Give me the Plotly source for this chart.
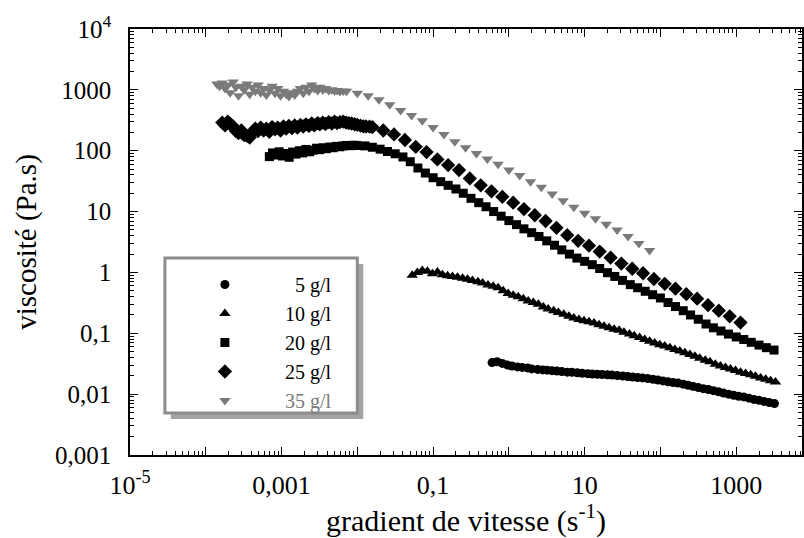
import plotly.graph_objects as go

# ---------------- data ----------------
# 5 g/l
x5 = [0.6, 0.7, 0.82, 0.96, 1.1, 1.3, 1.5, 1.76, 2.0, 2.4, 2.8, 3.2, 3.7, 4.3, 5.0,
      5.9, 6.8, 8.0, 9.3, 11, 12.6, 14.7, 17, 20, 23, 27, 32, 37, 43, 50,
      58, 68, 80, 93, 108, 126, 147, 171, 200, 232, 270, 316, 368, 430, 500,
      585, 680, 794, 925, 1080, 1260, 1470, 1710, 2000, 2330, 2720, 3200]
y5 = [0.033, 0.034, 0.032, 0.030, 0.029, 0.028, 0.0275, 0.027, 0.026, 0.0255,
      0.025, 0.0248, 0.0243, 0.024, 0.0235, 0.023, 0.0228, 0.0224, 0.022, 0.0217,
      0.0214, 0.0212, 0.021, 0.0208, 0.0206, 0.0202, 0.0198, 0.0195, 0.0191, 0.0188,
      0.0185, 0.018, 0.0175, 0.017, 0.0165, 0.016, 0.0155, 0.0152, 0.0146, 0.014,
      0.0134, 0.0128, 0.0123, 0.0119, 0.0114, 0.0109, 0.0104, 0.0100, 0.0096, 0.0092,
      0.0090, 0.0086, 0.0082, 0.0079, 0.0076, 0.0073, 0.0070]

# 10 g/l
x10 = [0.053, 0.062, 0.072, 0.084, 0.098, 0.114, 0.133, 0.155, 0.18, 0.21,
       0.245, 0.285, 0.33, 0.39, 0.45, 0.53, 0.62, 0.72, 0.84, 0.98,
       1.14, 1.33, 1.55, 1.8, 2.1, 2.45, 2.85, 3.3, 3.9, 4.5,
       5.3, 6.2, 7.2, 8.4, 9.8, 11.4, 13.3, 15.5, 18, 21,
       24.5, 28.5, 33, 39, 45, 53, 62, 72, 84, 98,
       114, 133, 155, 180, 210, 245, 285, 330, 390, 450,
       530, 620, 720, 840, 980, 1140, 1330, 1550, 1800, 2100,
       2450, 2850, 3300]
y10 = [0.90, 1.0, 1.08, 1.05, 0.95, 1.02, 0.92, 0.88, 0.86, 0.83,
       0.80, 0.77, 0.74, 0.70, 0.67, 0.62, 0.59, 0.56, 0.50, 0.45,
       0.42, 0.40, 0.37, 0.34, 0.32, 0.30, 0.27, 0.25, 0.235, 0.22,
       0.205, 0.19, 0.178, 0.168, 0.16, 0.155, 0.148, 0.138, 0.13, 0.123,
       0.117, 0.112, 0.104, 0.097, 0.091, 0.085, 0.079, 0.074, 0.069, 0.065,
       0.062, 0.058, 0.054, 0.051, 0.048, 0.045, 0.042, 0.039, 0.036, 0.034,
       0.031, 0.029, 0.0275, 0.026, 0.0245, 0.023, 0.0218, 0.0208, 0.0196, 0.0185,
       0.0175, 0.0166, 0.0158]

# 20 g/l
x20 = [6.9e-4, 7.6e-4, 8.4e-4, 9.3e-4, 1.03e-3, 1.14e-3, 1.26e-3, 1.4e-3, 1.55e-3,
       1.72e-3, 1.9e-3, 2.1e-3, 2.35e-3, 2.6e-3, 2.9e-3, 3.2e-3, 3.55e-3, 3.9e-3,
       4.35e-3, 4.8e-3, 5.3e-3, 5.9e-3, 6.5e-3, 7.2e-3, 8.0e-3, 8.9e-3, 9.8e-3,
       0.0126, 0.0158, 0.02, 0.025, 0.0316, 0.04, 0.05, 0.063, 0.079, 0.1,
       0.126, 0.158, 0.2, 0.25, 0.316, 0.4, 0.5, 0.63, 0.79, 1.0,
       1.26, 1.58, 2.0, 2.5, 3.16, 4.0, 5.0, 6.3, 7.9, 10,
       12.6, 15.8, 20, 25, 31.6, 40, 50, 63, 79, 100,
       126, 158, 200, 250, 316, 400, 500, 630, 790, 1000,
       1260, 1580, 2000, 2500, 3160]
y20 = [80, 92, 85, 96, 82, 90, 78, 95, 88,
       100, 92, 105, 96, 102, 110, 104, 112, 108,
       115, 112, 118, 116, 120, 122, 121, 123, 122,
       120, 114, 106, 97, 89, 79, 66, 52, 43, 36,
       31, 27, 23.5, 20, 16.5, 14, 12, 10, 8.4, 7.1,
       6.1, 5.2, 4.5, 3.9, 3.3, 2.8, 2.35, 2.0, 1.72, 1.52,
       1.34, 1.16, 0.99, 0.86, 0.74, 0.63, 0.56, 0.49, 0.43, 0.38,
       0.32, 0.275, 0.235, 0.2, 0.17, 0.142, 0.123, 0.109, 0.097, 0.087,
       0.079, 0.071, 0.064, 0.058, 0.053]

# 25 g/l
x25 = [1.65e-4, 1.8e-4, 1.95e-4, 2.1e-4, 2.3e-4, 2.5e-4, 2.7e-4, 2.95e-4, 3.2e-4, 3.5e-4,
       3.8e-4, 4.1e-4, 4.5e-4, 4.9e-4, 5.3e-4, 5.8e-4, 6.3e-4, 6.9e-4, 7.5e-4, 8.2e-4,
       8.9e-4, 9.7e-4, 1.06e-3, 1.15e-3, 1.25e-3, 1.37e-3, 1.49e-3, 1.62e-3, 1.77e-3, 1.93e-3,
       2.1e-3, 2.3e-3, 2.5e-3, 2.7e-3, 3.0e-3, 3.2e-3, 3.5e-3, 3.8e-3, 4.2e-3, 4.6e-3,
       5.0e-3, 5.4e-3, 5.9e-3, 6.5e-3, 7.1e-3, 7.7e-3, 8.4e-3, 9.2e-3, 0.01, 0.011,
       0.012, 0.013, 0.0145,
       0.0158, 0.022, 0.0305, 0.0425, 0.059, 0.082, 0.114, 0.158, 0.22, 0.305,
       0.425, 0.59, 0.82, 1.14, 1.58, 2.2, 3.05, 4.25, 5.9, 8.2,
       11.4, 15.8, 22, 30.5, 42.5, 59, 82, 114, 158, 220,
       305, 425, 590, 820, 1140]
y25 = [290, 260, 300, 275, 250, 210, 195, 215, 180, 175,
       165, 200, 230, 210, 240, 215, 230, 205, 245, 225,
       240, 215, 250, 230, 255, 235, 260, 240, 265, 250,
       270, 255, 280, 260, 285, 270, 290, 275, 295, 280,
       300, 285, 295, 300, 290, 285, 280, 272, 265, 258,
       252, 250, 248,
       245, 215, 185, 150, 116, 95, 72, 58, 48, 35,
       27, 21.5, 17.5, 14, 11, 8.7, 7.0, 5.4, 4.1, 3.3,
       2.75, 2.2, 1.75, 1.4, 1.15, 0.97, 0.78, 0.65, 0.54, 0.44,
       0.37, 0.29, 0.235, 0.19, 0.15]

# 35 g/l
x35 = [1.4e-4, 1.52e-4, 1.65e-4, 1.8e-4, 1.95e-4, 2.1e-4, 2.3e-4, 2.5e-4, 2.7e-4, 2.95e-4,
       3.2e-4, 3.5e-4, 3.8e-4, 4.1e-4, 4.5e-4, 4.9e-4, 5.3e-4, 5.8e-4, 6.3e-4, 6.9e-4,
       7.5e-4, 8.2e-4, 8.9e-4, 9.7e-4, 1.06e-3, 1.15e-3, 1.25e-3, 1.37e-3, 1.49e-3, 1.62e-3,
       1.77e-3, 1.93e-3, 2.1e-3, 2.3e-3, 2.5e-3, 2.7e-3, 3.0e-3, 3.2e-3, 3.5e-3, 3.8e-3,
       4.2e-3, 4.6e-3, 5.0e-3, 5.4e-3, 5.9e-3, 6.5e-3,
       0.0072, 0.01, 0.0139, 0.0193, 0.0268, 0.0373, 0.052, 0.072, 0.1, 0.139,
       0.193, 0.268, 0.373, 0.52, 0.72, 1.0, 1.39, 1.93, 2.68, 3.73,
       5.2, 7.2, 10, 13.9, 19.3, 26.8, 37.3, 52, 72]
y35 = [1250, 1150, 1300, 1050, 1200, 900, 1350, 1100, 800, 1150,
       1000, 1250, 850, 1100, 950, 1200, 900, 1050, 820, 1000,
       1150, 880, 1050, 800, 950, 850, 780, 900, 820, 950,
       1050, 880, 1100, 950, 1200, 1050, 980, 1100, 1000, 1050,
       980, 1000, 960, 980, 940, 960,
       950, 880, 800, 690, 570, 460, 380, 310, 240, 185,
       140, 112, 90, 73, 60, 48, 39, 31, 25, 19.5,
       15, 11.8, 9.4, 7.6, 6.2, 5.0, 3.9, 3.0, 2.3]

series_names = ["\u20075 g/l", "10 g/l", "20 g/l", "25 g/l",
                "<span style='color:#7a7a7a'>35 g/l</span>"]

x_label_vals = [1e-5, 1e-3, 1e-1, 10, 1000]
x_label_text = ["10<sup>-5</sup>", "0,001", "0,1", "10", "1000"]
x_unlabelled_decades = [1e-4, 1e-2, 1, 100]
y_tickvals = [1e-3, 1e-2, 1e-1, 1, 10, 100, 1000, 1e4]
y_ticktext = ["0,001", "0,01", "0,1", "1", "10", "100", "1000", "10<sup>4</sup>"]

# ---------------- figure ----------------
FONT = "Liberation Serif, Times New Roman, serif"
W, H = 804, 538
ML, MR, MT, MB = 130, 0, 29, 83
PW, PH = W - ML - MR, H - MT - MB
XRANGE = [-5, -5 + PW / 76.0]


def px2paper(px, py):
    return (px - ML) / PW, (H - MB - py) / PH


fig = go.Figure()
styles = [
    (x5, y5, "circle", 9, "black"),
    (x10, y10, "triangle-up", 10, "black"),
    (x20, y20, "square", 9, "black"),
    (x25, y25, "diamond", 11, "black"),
    (x35, y35, "triangle-down", 10, "#7a7a7a"),
]
for (xs, ys, sym, sz, col), name in zip(styles, series_names):
    fig.add_trace(go.Scatter(
        x=xs, y=ys, mode="markers", name=name,
        marker=dict(symbol=sym, size=sz, color=col, line=dict(width=0)),
    ))


def minor_vals(lo, hi):
    vals = []
    for d in range(lo, hi + 1):
        for k in range(2, 10):
            vals.append(k * 10.0 ** d)
    return vals


axis_common = dict(
    type="log", showgrid=False, zeroline=False,
    showline=True, linecolor="black", linewidth=1.5, mirror="ticks",
    ticks="inside", ticklen=8, tickwidth=1, tickcolor="black",
    tickmode="array",
)

fig.update_xaxes(
    **axis_common,
    range=XRANGE,
    tickvals=x_label_vals, ticktext=x_label_text,
    tickfont=dict(family=FONT, size=26, color="black"),
    ticklabelstandoff=6,
    minor=dict(tickmode="array", tickvals=minor_vals(-5, 3), ticks="inside",
               ticklen=4, tickwidth=1, tickcolor="black"),
    title=dict(text="gradient de vitesse (s<sup>-1</sup>)",
               font=dict(family=FONT, size=30, color="black"), standoff=4),
)
fig.update_yaxes(
    **axis_common,
    range=[-3, 4],
    tickvals=y_tickvals, ticktext=y_ticktext,
    tickfont=dict(family=FONT, size=25, color="black"),
    ticklabelstandoff=12,
    minor=dict(tickmode="array", tickvals=minor_vals(-3, 3), ticks="inside",
               ticklen=4, tickwidth=1, tickcolor="black"),
    title=dict(text="viscosité (Pa.s)",
               font=dict(family=FONT, size=29, color="black"), standoff=10),
)

# unlabelled decade ticks of the x axis (overlaying axis, no labels)
fig.update_layout(
    xaxis2=dict(type="log", overlaying="x", anchor="y", side="bottom",
                range=XRANGE, showgrid=False, zeroline=False, showline=False,
                mirror="ticks", ticks="inside", ticklen=8, tickwidth=1,
                tickcolor="black", tickmode="array",
                tickvals=x_unlabelled_decades, showticklabels=False),
)
fig.add_trace(go.Scatter(x=[], y=[], xaxis="x2", yaxis="y", showlegend=False,
                         mode="markers", hoverinfo="skip"))

# legend frame (shadow + bordered box)
sx0, sy0 = px2paper(171, 419)
sx1, sy1 = px2paper(364, 264)
bx0, by0 = px2paper(165, 413)
bx1, by1 = px2paper(358, 258)
fig.add_shape(type="rect", xref="paper", yref="paper", x0=sx0, y0=sy0, x1=sx1, y1=sy1,
              fillcolor="#a3a3a3", line=dict(width=0), layer="above")
fig.add_shape(type="rect", xref="paper", yref="paper", x0=bx0, y0=by0, x1=bx1, y1=by1,
              fillcolor="white", line=dict(color="#8c8c8c", width=3), layer="above")

lx, ly = px2paper(165, 265)
fig.update_layout(
    width=W, height=H,
    margin=dict(l=ML, r=MR, t=MT, b=MB, pad=0),
    paper_bgcolor="white", plot_bgcolor="white",
    font=dict(family=FONT, color="black"),
    showlegend=True,
    legend=dict(x=lx, y=ly, xanchor="left", yanchor="top",
                bgcolor="rgba(0,0,0,0)", borderwidth=0,
                font=dict(family=FONT, size=20, color="black"),
                itemwidth=110, tracegroupgap=0),
)

fig.write_html("out.html")
